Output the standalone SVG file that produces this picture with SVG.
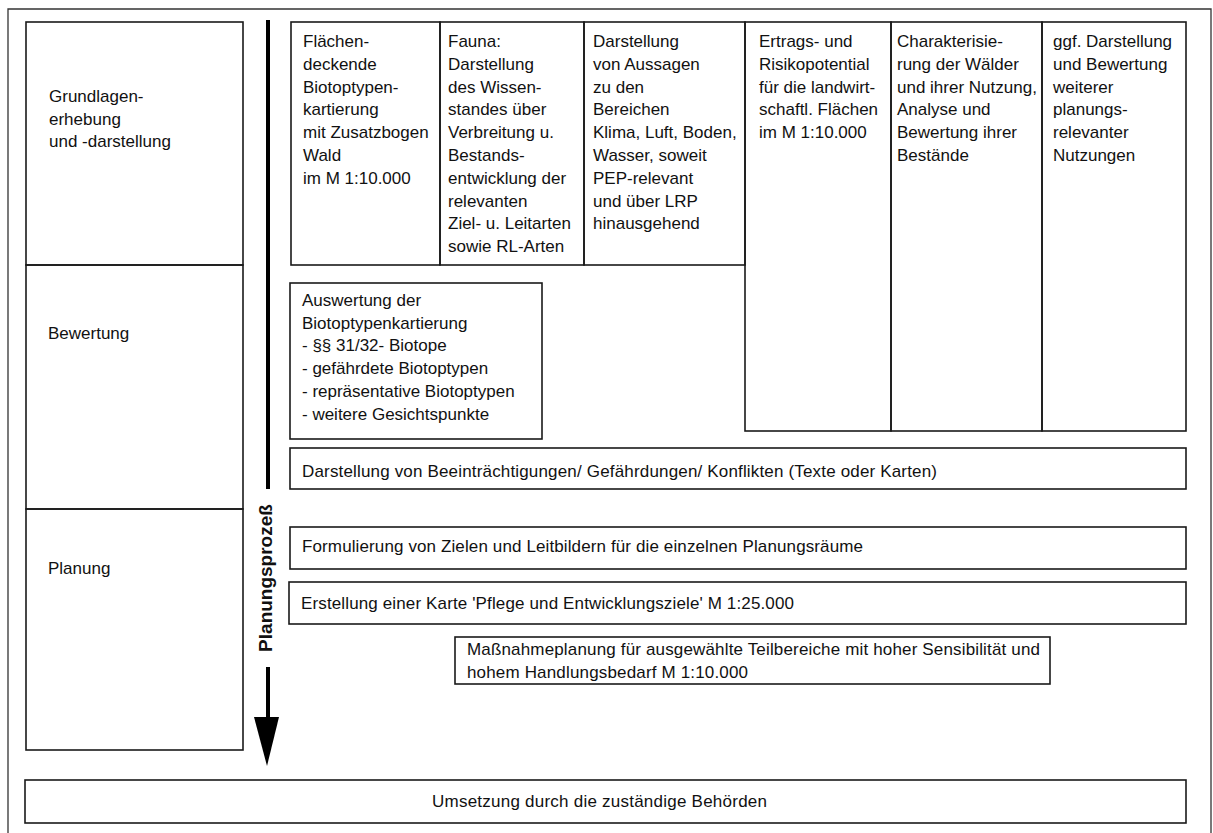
<svg xmlns="http://www.w3.org/2000/svg" width="1213" height="833" viewBox="0 0 1213 833">
<style>
.b{fill:none;stroke:#1a1a1a;stroke-width:1.6}
.f{fill:none;stroke:#333;stroke-width:1.3}
text{font-family:"Liberation Sans",Arial,sans-serif;font-size:17px;fill:#111}
.t{font-weight:bold;font-size:19px}
</style>
<rect width="1213" height="833" fill="#fff"/>
<path class="f" d="M8,833 V9 H1211 V833"/>
<g id="grundlagen"><rect class="b" x="26" y="22" width="217" height="243"/>
<text x="49"><tspan x="49" y="102">Grundlagen-</tspan><tspan x="49" y="124.7">erhebung</tspan><tspan x="49" y="147.4">und -darstellung</tspan></text></g>
<g id="bewertung"><rect class="b" x="26" y="265" width="217" height="244"/>
<text x="48" y="339">Bewertung</text></g>
<g id="planung"><rect class="b" x="26" y="509" width="217" height="241"/>
<text x="48" y="574">Planung</text></g>
<g id="connectors">
<line x1="268" y1="20" x2="268" y2="489" stroke="#000" stroke-width="4"/>
<line x1="268" y1="667" x2="268" y2="720" stroke="#000" stroke-width="4"/>
<polygon points="254,717 279,717 267,766" fill="#000"/>
<text class="t" transform="translate(272,578) rotate(-90)" text-anchor="middle">Planungsprozeß</text>
</g>
<g id="biotop"><rect class="b" x="291" y="22" width="149" height="243"/>
<text><tspan x="303" y="47">Flächen-</tspan><tspan x="303" y="69.8">deckende</tspan><tspan x="303" y="92.6">Biotoptypen-</tspan><tspan x="303" y="115.4">kartierung</tspan><tspan x="303" y="138.2">mit Zusatzbogen</tspan><tspan x="303" y="161">Wald</tspan><tspan x="303" y="183.8">im M 1:10.000</tspan></text></g>
<g id="fauna"><rect class="b" x="440" y="22" width="144" height="243"/>
<text><tspan x="448" y="47">Fauna:</tspan><tspan x="448" y="69.8">Darstellung</tspan><tspan x="448" y="92.6">des Wissen-</tspan><tspan x="448" y="115.4">standes über</tspan><tspan x="448" y="138.2">Verbreitung u.</tspan><tspan x="448" y="161">Bestands-</tspan><tspan x="448" y="183.8">entwicklung der</tspan><tspan x="448" y="206.6">relevanten</tspan><tspan x="448" y="229.4">Ziel- u. Leitarten</tspan><tspan x="448" y="252.2">sowie RL-Arten</tspan></text></g>
<g id="aussagen"><rect class="b" x="584" y="22" width="161" height="243"/>
<text><tspan x="593" y="47">Darstellung</tspan><tspan x="593" y="69.8">von Aussagen</tspan><tspan x="593" y="92.6">zu den</tspan><tspan x="593" y="115.4">Bereichen</tspan><tspan x="593" y="138.2">Klima, Luft, Boden,</tspan><tspan x="593" y="161">Wasser, soweit</tspan><tspan x="593" y="183.8">PEP-relevant</tspan><tspan x="593" y="206.6">und über LRP</tspan><tspan x="593" y="229.4">hinausgehend</tspan></text></g>
<g id="ertrag"><rect class="b" x="745" y="22" width="146" height="409"/>
<text><tspan x="759" y="47">Ertrags- und</tspan><tspan x="759" y="69.8">Risikopotential</tspan><tspan x="759" y="92.6">für die landwirt-</tspan><tspan x="759" y="115.4">schaftl. Flächen</tspan><tspan x="759" y="138.2">im M 1:10.000</tspan></text></g>
<g id="wald"><rect class="b" x="891" y="22" width="151" height="409"/>
<text><tspan x="897" y="47">Charakterisie-</tspan><tspan x="897" y="69.8">rung der Wälder</tspan><tspan x="897" y="92.6">und ihrer Nutzung,</tspan><tspan x="897" y="115.4">Analyse und</tspan><tspan x="897" y="138.2">Bewertung ihrer</tspan><tspan x="897" y="161">Bestände</tspan></text></g>
<g id="nutzungen"><rect class="b" x="1042" y="22" width="144" height="409"/>
<text><tspan x="1053" y="47">ggf. Darstellung</tspan><tspan x="1053" y="69.8">und Bewertung</tspan><tspan x="1053" y="92.6">weiterer</tspan><tspan x="1053" y="115.4">planungs-</tspan><tspan x="1053" y="138.2">relevanter</tspan><tspan x="1053" y="161">Nutzungen</tspan></text></g>
<g id="auswertung"><rect class="b" x="290" y="283" width="252" height="156"/>
<text><tspan x="302" y="306">Auswertung der</tspan><tspan x="302" y="328.7">Biotoptypenkartierung</tspan><tspan x="302" y="351.4">- §§ 31/32- Biotope</tspan><tspan x="302" y="374.1">- gefährdete Biotoptypen</tspan><tspan x="302" y="396.8">- repräsentative Biotoptypen</tspan><tspan x="302" y="419.5">- weitere Gesichtspunkte</tspan></text></g>
<g id="konflikte"><rect class="b" x="290" y="448" width="896" height="41"/>
<text x="302" y="477" textLength="635" lengthAdjust="spacing">Darstellung von Beeinträchtigungen/ Gefährdungen/ Konflikten (Texte oder Karten)</text></g>
<g id="ziele"><rect class="b" x="290" y="527" width="896" height="42"/>
<text x="302" y="552" textLength="561" lengthAdjust="spacing">Formulierung von Zielen und Leitbildern für die einzelnen Planungsräume</text></g>
<g id="karte"><rect class="b" x="289" y="582" width="897" height="42"/>
<text x="301" y="608.5" textLength="493" lengthAdjust="spacing">Erstellung einer Karte 'Pflege und Entwicklungsziele' M 1:25.000</text></g>
<g id="massnahme"><rect class="b" x="455" y="637" width="595" height="47"/>
<text><tspan x="467" y="655" textLength="573" lengthAdjust="spacing">Maßnahmeplanung für ausgewählte Teilbereiche mit hoher Sensibilität und</tspan></text>
<text><tspan x="467" y="678" textLength="281" lengthAdjust="spacing">hohem Handlungsbedarf M 1:10.000</tspan></text></g>
<g id="umsetzung"><rect class="b" x="25" y="780" width="1161" height="43"/>
<text x="432" y="807" textLength="335" lengthAdjust="spacing">Umsetzung durch die zuständige Behörden</text></g>
</svg>
